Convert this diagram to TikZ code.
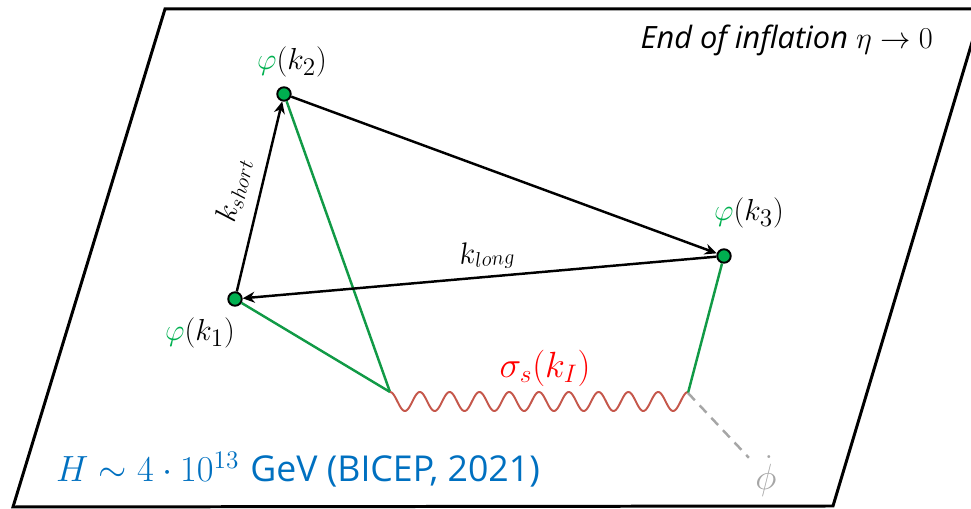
\documentclass[tikz,border=0pt]{standalone}
\usepackage{fontspec}
\setsansfont{Open Sans}
\usetikzlibrary{arrows.meta, positioning}
\definecolor{cgreen}{HTML}{00B050}
\definecolor{cleg}{HTML}{119A46}
\definecolor{cwave}{HTML}{C5574B}
\definecolor{cred}{HTML}{FF0000}
\definecolor{cblue}{HTML}{0070C0}
\definecolor{cgrey}{HTML}{A6A6A6}
\tikzset{
  every picture/.style={line width=1.4pt},
  field/.style={circle, draw=black, fill=cgreen, line width=1.1pt, minimum size=0.27cm, inner sep=0pt},
  mom/.style={-{Stealth[length=2.4mm, width=2.2mm]}, draw=black, line width=1.4pt},
  leg/.style={draw=cleg, line width=1.4pt},
  wavy/.style={draw=cwave, line width=1.1pt},
  ghost/.style={draw=cgrey, dashed, dash pattern=on 0.2cm off 0.14cm, line width=1.4pt},
  lbl/.style={font=\fontsize{19}{21}\selectfont, inner sep=1pt},
  klbl/.style={font=\fontsize{17}{19}\selectfont, inner sep=2pt},
}

\begin{document}
\begin{tikzpicture}[x=0.02cm, y=-0.02cm]
  \useasboundingbox (0,0) rectangle (971,509);
  % the end-of-inflation slice
  \draw[line width=1.7pt, line join=miter] (165,9) -- (982,9) -- (833,506) -- (13,507) -- cycle;
  \node[font=\sffamily\itshape\fontsize{17.5}{20}\selectfont, anchor=east] (title) at (940,40) {End of inflation $\eta\to 0$};

  % external legs
  \node[field] (phione) at (235,299) {};
  \node[field] (phitwo) at (284,94) {};
  \node[field] (phithree) at (724,256) {};
  \coordinate (wl) at (390,392);
  \coordinate (wr) at (688,393);

  \node[lbl] (lone) at (200,333) {$\textcolor{cgreen}{\varphi}(k_1)$};
  \node[lbl] (ltwo) at (292,62) {$\textcolor{cgreen}{\varphi}(k_2)$};
  \node[lbl] (lthree) at (749,213) {$\textcolor{cgreen}{\varphi}(k_3)$};

  \draw[leg] (phitwo) -- (wl);
  \draw[leg] (phione) -- (wl);
  \draw[leg] (phithree) -- (wr);

  % momenta
  \draw[mom] (phione) -- (phitwo) node[midway, sloped, above=5pt, klbl] {$k_{short}$};
  \draw[mom] (phitwo) -- (phithree);
  \draw[mom] (phithree) -- (phione);
  \path (phione) -- (phithree) node[pos=0.52, sloped, above=1pt, klbl] (klong) {$k_{long}$};

  % exchanged massive field
  \draw[wavy, shift={(wl)}] plot[domain=0:1, samples=301, smooth] ({298*\x}, {9.5-9.5*cos(3600*\x)});
  \node[lbl, text=cred, font=\fontsize{19.5}{22}\selectfont] (sigma) at (545,368) {$\sigma_s(k_I)$};

  \node[lbl, text=cgrey, font=\fontsize{21}{23}\selectfont] (phidot) at (766,476) {$\dot\phi$};
  \draw[ghost, shorten >=3pt] (wr) -- (phidot);

  \node[anchor=west, text=cblue, inner sep=0pt] (hubble) at (55,470) {\fontsize{21}{24}\selectfont$H\sim 4\cdot 10^{13}$ \fontsize{20.3}{24}\selectfont\sffamily GeV (BICEP, 2021)};
\end{tikzpicture}
\end{document}
